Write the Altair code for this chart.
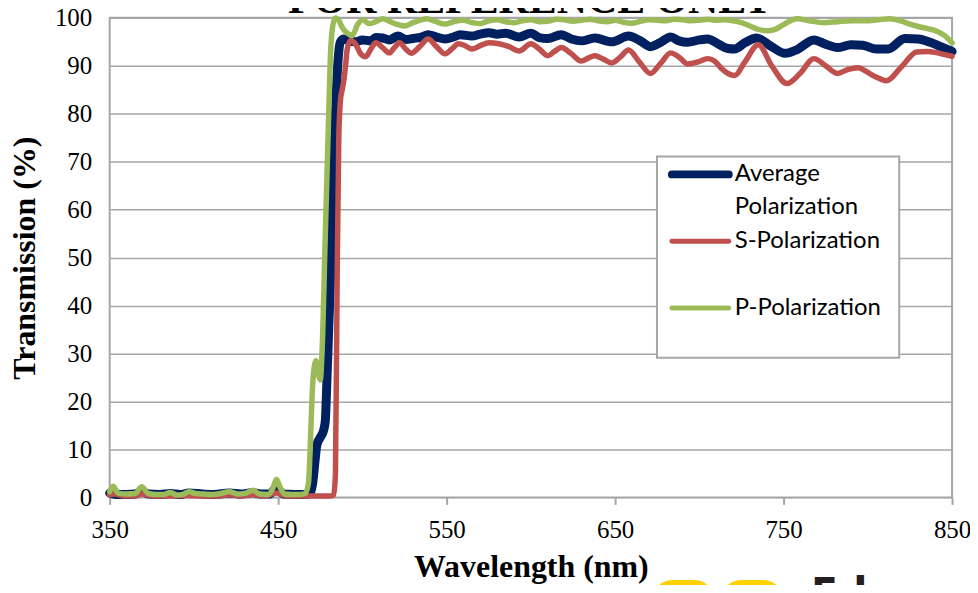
import altair as alt
import pandas as pd

series_names = ["Average Polarization", "S-Polarization", "P-Polarization"]
series_colors = ["#002060", "#C0504D", "#9BBB59"]

avg_wl = [350, 355, 360, 365, 369, 373, 380, 386, 392, 397, 405, 412, 421, 428, 435, 440, 445, 449, 453, 460,
          466, 469, 470.5, 472, 473, 475, 477, 478, 479, 481, 483, 485, 486, 487, 489, 492, 496, 500, 505, 508,
          512, 516, 521, 526, 530, 535, 539, 544, 549, 554, 558, 565, 570, 575, 580, 585, 593, 600, 605, 610,
          618, 624, 630, 638, 648, 658, 665, 671, 677, 683, 688, 693, 700, 705, 711, 717, 721, 727, 734, 742,
          751, 758, 768, 775, 782, 790, 797, 805, 812, 822, 830, 837, 844, 850]
avg_t = [0.9, 0.6, 0.6, 0.7, 1.2, 0.7, 0.6, 0.8, 0.6, 0.9, 0.7, 0.6, 0.9, 0.7, 1.0, 0.7, 0.7, 2.0, 0.7, 0.6,
         0.6, 0.9, 3, 8, 11, 12.5, 14, 16, 25, 45, 70, 88, 93, 95, 95.6, 95.2, 95.0, 95.4, 95.2, 95.9,
         95.8, 95.4, 96.2, 95.5, 95.7, 96.0, 96.5, 96.0, 95.6, 96.0, 96.5, 96.2, 96.6, 96.9, 96.6, 96.8, 96.0, 96.8, 95.9, 95.7,
         96.5, 95.6, 95.2, 95.8, 95.0, 96.2, 95.2, 94.0, 94.9, 96.0, 95.2, 94.9, 95.4, 95.6, 94.6, 93.6, 93.5, 94.8, 95.8, 94.2,
         92.6, 93.4, 95.4, 94.5, 93.8, 94.4, 94.3, 93.5, 93.5, 95.7, 95.6, 94.9, 93.9, 93.0]

s_wl = [350, 353, 358, 365, 369, 375, 385, 395, 405, 415, 421, 428, 435, 442, 449, 455, 462, 470, 476, 481,
        483, 484, 485, 486, 487, 488, 489, 490, 491, 493, 496, 499, 502, 505, 508, 512, 516, 519, 522, 526,
        529, 534, 539, 544, 549, 553, 557, 561, 565, 570, 575, 581, 587, 593, 600, 605, 610, 614, 618, 624,
        630, 634, 638, 643, 648, 653, 658, 664, 671, 677, 683, 688, 693, 699, 705, 709, 713, 717, 721, 727,
        735, 743, 752, 760, 768, 775, 782, 788, 794, 803, 811, 820, 829, 835, 840, 845, 850]
s_t = [0.5, 0.7, 0.3, 0.3, 0.7, 0.3, 0.3, 0.4, 0.3, 0.3, 0.6, 0.3, 0.6, 0.3, 0.9, 0.3, 0.3, 0.3, 0.3, 0.3,
       0.5, 5, 45, 75, 83, 85, 87, 90, 93.5, 95.3, 94.5, 92.5, 91.9, 93.5, 94.8, 93.8, 92.7, 93.8, 94.8, 93.4,
       92.6, 94.0, 95.6, 94.0, 92.5, 93.5, 94.6, 94.2, 93.5, 94.2, 94.8, 94.6, 94.0, 93.1, 94.6, 93.5, 92.1, 93.0, 93.8, 92.5,
       91.0, 91.6, 92.1, 91.4, 90.6, 91.8, 93.3, 91.0, 88.4, 90.5, 92.7, 91.8, 90.4, 90.8, 91.5, 91.0, 89.5, 88.4, 88.0, 90.8,
       94.4, 90.0, 86.3, 88.5, 91.5, 90.0, 88.4, 89.2, 89.6, 88.0, 86.9, 89.8, 92.9, 93.0, 92.8, 92.4, 92.0]

p_wl = [350, 352, 355, 360, 365, 369, 373, 378, 382, 386, 390, 394, 397, 401, 406, 411, 416, 421, 426, 431,
        435, 439, 444, 447, 449, 451, 454, 458, 463, 466, 468, 469, 470, 471, 472.5, 474, 475, 476, 478, 480,
        481, 482.5, 484, 486, 488, 491, 494, 497, 500, 504, 508, 512, 516, 520, 525, 530, 535, 538, 543, 549,
        555, 560, 565, 570, 575, 580, 585, 590, 595, 600, 605, 610, 615, 620, 625, 630, 635, 640, 645, 650,
        655, 660, 665, 670, 675, 680, 685, 690, 695, 700, 705, 710, 715, 720, 725, 730, 735, 740, 745, 750,
        758, 765, 774, 782, 790, 798, 806, 813, 820, 825, 830, 835, 841, 846, 850]
p_t = [1.2, 2.3, 0.9, 0.7, 0.8, 2.2, 0.8, 0.6, 0.6, 1.0, 0.5, 0.7, 1.2, 0.8, 0.7, 0.6, 0.8, 1.2, 0.7, 0.9,
       1.5, 0.7, 0.6, 2.0, 3.8, 2.2, 0.7, 0.6, 0.6, 0.8, 3, 10, 20, 26, 28.5, 25.5, 24.5, 30, 55, 80,
       92, 98.5, 100, 99.5, 98, 96.8, 96.3, 98.5, 99.6, 98.8, 99.2, 99.8, 99.3, 98.7, 98.3, 99.0, 99.6, 99.8, 99.3, 98.7,
       99.3, 99.5, 99.0, 98.8, 99.4, 99.6, 99.2, 99.0, 99.4, 99.6, 99.2, 99.3, 99.7, 99.6, 99.3, 99.5, 99.7, 99.4, 99.2, 99.5,
       99.1, 98.9, 99.3, 99.6, 99.5, 99.4, 99.7, 99.6, 99.4, 99.5, 99.7, 99.5, 99.6, 99.4, 99.0, 98.3, 97.6, 97.3, 97.6, 98.6,
       99.8, 99.4, 99.0, 99.2, 99.4, 99.4, 99.6, 99.8, 99.3, 98.7, 98.2, 97.8, 97.2, 96.2, 94.8]

x_ticks = [350, 450, 550, 650, 750, 850]
y_ticks = list(range(0, 101, 10))
title_text = "FOR REFERENCE ONLY"
logo_text = "Edmund"

W, H = 845, 481
SERIF = "Liberation Serif"
LEG_FONT = "Lato"
GRID = "#A6A6A6"

x_scale = alt.Scale(domain=[350, 850], nice=False, zero=False)
y_scale = alt.Scale(domain=[0, 100], nice=False, zero=False)

x_axis = alt.Axis(values=x_ticks, title="Wavelength (nm)", titleFont=SERIF, titleFontSize=32,
                  titleFontWeight="bold", titleColor="black", titleY=69, titleBaseline="middle",
                  labelFont=SERIF, labelFontSize=25, labelColor="black", labelPadding=13,
                  tickSize=7, tickColor=GRID, tickWidth=2, domain=False, grid=False,
                  labelFlush=False, labelOverlap=False)
y_axis = alt.Axis(values=y_ticks, title="Transmission (%)", titleFont=SERIF, titleFontSize=32,
                  titleFontWeight="bold", titleColor="black", titleX=-85, titleBaseline="middle",
                  labelFont=SERIF, labelFontSize=25, labelColor="black", labelPadding=18,
                  ticks=False, tickSize=0, domain=False, grid=True, gridColor=GRID, gridWidth=1.5)

def series_df(wl, t, name):
    return pd.DataFrame({"wl": wl, "T": t, "series": name})

widths = [9, 5.5, 5.5]
datasets = [(avg_wl, avg_t), (s_wl, s_t), (p_wl, p_t)]

layers = []
for (wl, t), name, color, w in zip(datasets, series_names, series_colors, widths):
    layers.append(
        alt.Chart(series_df(wl, t, name)).mark_line(
            color=color, strokeWidth=w, interpolate="monotone", strokeJoin="round", strokeCap="round"
        ).encode(
            x=alt.X("wl:Q", scale=x_scale, axis=x_axis),
            y=alt.Y("T:Q", scale=y_scale, axis=y_axis),
        )
    )

one = pd.DataFrame({"k": [0]})

# legend box
layers.append(alt.Chart(one).mark_rect(fill="white", stroke=GRID, strokeWidth=2).encode(
    x=alt.value(549), x2=alt.value(792), y=alt.value(139), y2=alt.value(341)))

leg_y = [157, 224, 291]
leg_w = [8, 5, 5]
for name, color, yy, w in zip(series_names, series_colors, leg_y, leg_w):
    layers.append(alt.Chart(one).mark_rule(color=color, strokeWidth=w, strokeCap="round").encode(
        x=alt.value(564), x2=alt.value(621), y=alt.value(yy)))

leg_lines = [series_names[0].split(" ")[0], series_names[0].split(" ")[1], series_names[1], series_names[2]]
leg_text_y = [157, 190, 224, 291]
for txt, yy in zip(leg_lines, leg_text_y):
    layers.append(alt.Chart(pd.DataFrame({"t": [txt]})).mark_text(
        align="left", baseline="middle", font=LEG_FONT, fontSize=24, color="black"
    ).encode(text="t:N", x=alt.value(627), y=alt.value(yy)))

# watermark title (cut at top)
layers.append(alt.Chart(pd.DataFrame({"t": [title_text]})).mark_text(
    align="center", baseline="alphabetic", font=SERIF, fontSize=42, fontWeight="bold", color="black"
).encode(text="t:N", x=alt.value(422), y=alt.value(-5)))

# logo (cut at bottom)
for x1, x2 in [(543, 608), (612, 677)]:
    layers.append(alt.Chart(one).mark_rect(fill="#FFD100", cornerRadius=22).encode(
        x=alt.value(x1), x2=alt.value(x2), y=alt.value(564), y2=alt.value(630)))
layers.append(alt.Chart(pd.DataFrame({"t": [logo_text]})).mark_text(
    align="left", baseline="top", font="Noto Sans", fontSize=48, fontWeight="bold", color="#231F20"
).encode(text="t:N", x=alt.value(703), y=alt.value(558)))

chart = alt.layer(*layers).properties(
    width=W, height=H,
    autosize=alt.AutoSizeParams(type="none"),
    padding={"left": 102, "top": 9, "right": 18, "bottom": 87},
).configure_view(stroke=GRID, strokeWidth=2)

chart.save("out.html", embed_options={"renderer": "svg", "actions": False})
